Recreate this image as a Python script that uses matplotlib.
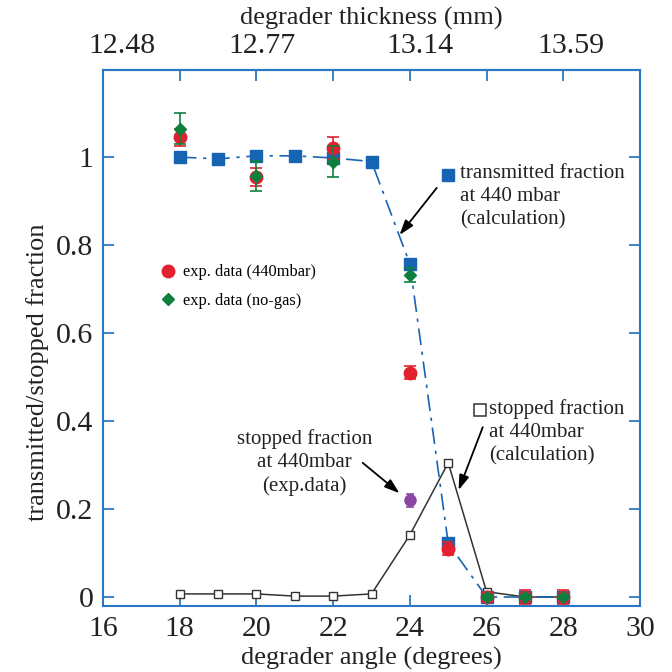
import matplotlib
matplotlib.use("Agg")
import matplotlib.pyplot as plt
from matplotlib.lines import Line2D

plt.rcParams['font.family'] = ['Liberation Serif', 'DejaVu Serif']
plt.rcParams['mathtext.fontset'] = 'stix'

# ---- data ----
angle_calc = [18, 19, 20, 21, 22, 23, 24, 25, 26, 27, 28]
transmitted_calc = [1.0, 0.996, 1.003, 1.003, 0.998, 0.99, 0.757, 0.122, 0.0, 0.0, 0.0]
stopped_calc = [0.007, 0.007, 0.007, 0.002, 0.002, 0.007, 0.141, 0.305, 0.012, 0.0, 0.0]

angle_440 = [18, 20, 22, 24, 25, 26, 27, 28]
frac_440 = [1.045, 0.955, 1.02, 0.51, 0.11, 0.0, 0.0, 0.0]
err_440 = [0.02, 0.02, 0.025, 0.015, 0.015, 0.012, 0.015, 0.015]

angle_nogas = [18, 20, 22, 24, 26, 27, 28]
frac_nogas = [1.065, 0.957, 0.99, 0.732, 0.0, 0.0, 0.0]
err_nogas = [0.035, 0.035, 0.035, 0.015, 0.005, 0.005, 0.005]

angle_stop_exp = [24]
frac_stop_exp = [0.22]
err_stop_exp = [0.015]

x_ticks = [16, 18, 20, 22, 24, 26, 28, 30]
y_ticks = [0, 0.2, 0.4, 0.6, 0.8, 1.0]
y_ticklabels = ["0", "0.2", "0.4", "0.6", "0.8", "1"]
top_label_pos = [16.5, 20.15, 24.25, 28.2]
top_labels = ["12.48", "12.77", "13.14", "13.59"]

# ---- colours ----
BLUE = "#1764b4"
RED = "#e3202f"
GREEN = "#0f7f3e"
PURPLE = "#8a46a3"
DARK = "#333333"
SPINE = "#2a78c4"
TXT = "#222222"

fig = plt.figure(figsize=(6.72, 6.72), dpi=100)
ax = fig.add_axes([0.1533, 0.0982, 0.7991, 0.7976])

# stopped fraction calc
ax.plot(angle_calc, stopped_calc, color=DARK, lw=1.1, marker='s', ms=5.5,
        mfc='white', mec=DARK, mew=1.0, zorder=3)

# transmitted calc
ax.plot(angle_calc, transmitted_calc, color=BLUE, lw=1.2, dashes=(10, 4, 2, 4),
        marker='s', ms=9, mfc=BLUE, mec=BLUE, zorder=4)

# exp data 440 mbar
ax.errorbar(angle_440, frac_440, yerr=err_440, fmt='o', color=RED, ms=9,
            ecolor=RED, elinewidth=1.2, capsize=4, capthick=1.2, zorder=5)
# exp data no-gas
ax.errorbar(angle_nogas, frac_nogas, yerr=err_nogas, fmt='D', color=GREEN, ms=6.5,
            ecolor=GREEN, elinewidth=1.2, capsize=4, capthick=1.2, zorder=6)
# stopped fraction exp
ax.errorbar(angle_stop_exp, frac_stop_exp, yerr=err_stop_exp, fmt='o', color=PURPLE,
            ms=8, ecolor=PURPLE, elinewidth=1.2, capsize=3, capthick=1.2, zorder=6)

ax.set_xlim(16, 30)
ax.set_ylim(-0.0205, 1.198)
ax.set_xticks(x_ticks)
ax.set_yticks(y_ticks)
ax.set_yticklabels(y_ticklabels)
ax.tick_params(direction='in', length=8, width=1.3, color=SPINE, top=True, right=True,
               labelsize=21.5, pad=7, labelcolor=TXT)
for s in ax.spines.values():
    s.set_color(SPINE)
    s.set_linewidth(1.5)

ax.set_xlabel("degrader angle (degrees)", fontsize=19, color=TXT, labelpad=4)
ax.set_ylabel("transmitted/stopped fraction", fontsize=19, color=TXT)
ax.yaxis.set_label_coords(-0.1, 0.437)

secax = ax.secondary_xaxis('top')
secax.set_xticks(top_label_pos)
secax.set_xticklabels(top_labels)
secax.tick_params(length=0, labelsize=21.5, pad=8, labelcolor=TXT)
secax.spines['top'].set_color(SPINE)
secax.spines['top'].set_linewidth(1.5)
secax.set_xlabel("degrader thickness (mm)", fontsize=19, color=TXT, labelpad=6)

# legend
handles = [Line2D([], [], ls='none', marker='o', ms=9, color=RED),
           Line2D([], [], ls='none', marker='D', ms=6.5, color=GREEN)]
ax.legend(handles, ["exp. data (440mbar)", "exp. data (no-gas)"], loc='upper left',
          bbox_to_anchor=(0.075, 0.665), frameon=False, fontsize=11.8,
          handletextpad=0.35, labelspacing=0.75, handlelength=1.2)

# annotations
txt_kw = dict(fontsize=15, color=TXT, linespacing=1.3)
arrow_kw = dict(arrowstyle='-|>,head_length=0.9,head_width=0.3', color='black', lw=1.3,
                shrinkA=0, shrinkB=0)

ax.plot([25.0], [0.959], marker='s', ms=9, color=BLUE, ls='none', clip_on=False)
ax.text(25.3, 0.985, "transmitted fraction\nat 440 mbar\n(calculation)",
        ha='left', va='top', **txt_kw)
ax.annotate("", xy=(23.73, 0.823), xytext=(24.7, 0.93), arrowprops=arrow_kw)

ax.text(21.26, 0.382, "stopped fraction\nat 440mbar\n(exp.data)", ha='center', va='top', **txt_kw)
ax.annotate("", xy=(23.73, 0.236), xytext=(22.77, 0.305), arrowprops=arrow_kw)

ax.plot([25.84], [0.425], marker='s', ms=8, mfc='white', mec=DARK, mew=1.1,
        ls='none', clip_on=False)
ax.text(26.06, 0.45, "stopped fraction\nat 440mbar\n(calculation)", ha='left', va='top', **txt_kw)
ax.annotate("", xy=(25.27, 0.243), xytext=(25.9, 0.386), arrowprops=arrow_kw)

fig.savefig("out.png", dpi=100)
